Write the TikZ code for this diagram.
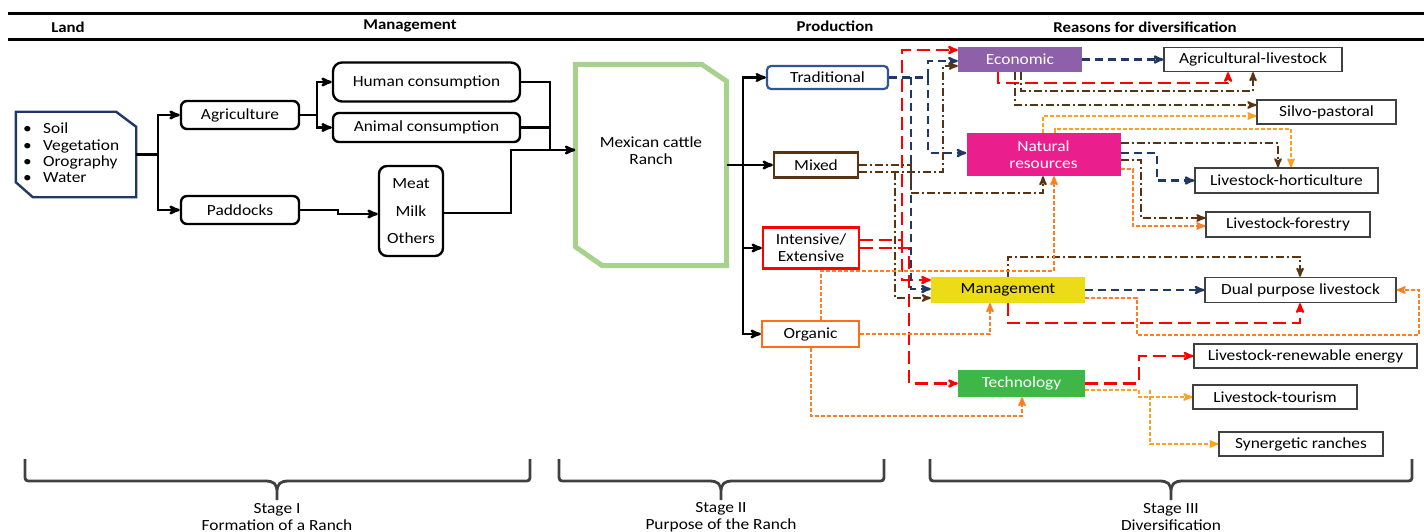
\documentclass[tikz,border=0pt]{standalone}
\usepackage{fontspec}
\setmainfont{Carlito}[FakeStretch=1.12]
\usepackage{tikz}
\usetikzlibrary{arrows}
\usetikzlibrary{positioning}

\definecolor{landblue}{RGB}{31,56,100}
\definecolor{ranchgreen}{RGB}{169,209,142}
\definecolor{tradblue}{RGB}{47,85,151}
\definecolor{navy}{RGB}{32,56,100}
\definecolor{mixbrown}{RGB}{89,52,20}
\definecolor{intred}{RGB}{255,0,0}
\definecolor{orgorange}{RGB}{255,110,20}
\definecolor{dashorange}{RGB}{255,125,35}
\definecolor{lightorange}{RGB}{255,160,30}
\definecolor{econpurple}{RGB}{142,96,170}
\definecolor{natpink}{RGB}{234,30,140}
\definecolor{mgmtyellow}{RGB}{236,220,24}
\definecolor{techgreen}{RGB}{63,182,72}
\definecolor{outline}{RGB}{64,64,64}

\tikzset{
	>=stealth',
	flow/.style={draw=black, line width=2.4pt},
	headrule/.style={draw=black, line width=3pt},
	headtext/.style={font=\fontsize{15}{17}\selectfont\bfseries},
	roundbox/.style={draw=black, line width=2.4pt, rounded corners=6pt, inner sep=0pt, align=center},
	prodbox/.style={line width=2.2pt, inner sep=0pt, align=center, fill=white},
	reasonbox/.style={inner sep=0pt, align=center, text=white},
	outcomebox/.style={draw=outline, line width=1.4pt, fill=white, inner sep=0pt, minimum height=24pt},
	redline/.style={draw=intred, line width=2.2pt, dash pattern=on 13pt off 6pt},
	navyline/.style={draw=navy, line width=2.2pt, dash pattern=on 8pt off 5pt},
	brownline/.style={draw=mixbrown, line width=2pt, dash pattern=on 8pt off 3pt on 2pt off 3pt},
	orangeline/.style={draw=dashorange, line width=2pt, dash pattern=on 4pt off 2pt},
	lightorangeline/.style={draw=lightorange, line width=2pt, dash pattern=on 4pt off 2pt},
	stagebrace/.style={draw=outline, line width=2.8pt},
	stagetext/.style={align=center, font=\fontsize{15.5}{17}\selectfont},
}

\begin{document}
\begin{tikzpicture}[x=1pt, y=-1pt, font=\fontsize{15.5}{17}\selectfont]
\useasboundingbox (0,0) rectangle (1424,532);

% header
\draw[headrule] (8,14) -- (1424,14);
\draw[headrule] (8,40) -- (1424,40);
\node[headtext] (hland) at (68,27) {Land};
\node[headtext] (hmanage) at (410,26) {Management};
\node[headtext] (hprod) at (835,26) {Production};
\node[headtext] (hreason) at (1145,27) {Reasons for diversification};

% stage I
\node[minimum width=120pt, minimum height=85pt] (land) at (76,154.5) {};
\draw[landblue, line width=2.4pt] (land.north west) -- ([xshift=-20pt]land.north east) -- ([yshift=-15pt]land.north east)
  -- (land.south east) -- ([xshift=17pt]land.south west) -- ([yshift=15pt]land.south west) -- cycle;
\node[anchor=west, align=left, inner sep=0pt, font=\fontsize{15.5}{16.3}\selectfont] (landtxt) at (23,153)
  {\makebox[20pt][l]{\textbullet}Soil\\\makebox[20pt][l]{\textbullet}Vegetation\\\makebox[20pt][l]{\textbullet}Orography\\\makebox[20pt][l]{\textbullet}Water};

\node[roundbox, minimum width=118pt, minimum height=28pt] (agri) at (240,115) {Agriculture};
\node[roundbox, minimum width=118pt, minimum height=28pt] (padd) at (240,210) {Paddocks};
\node[roundbox, rounded corners=9pt, minimum width=187pt, minimum height=39pt] (human) at (426.5,82) {Human consumption};
\node[roundbox, minimum width=187pt, minimum height=29pt] (animal) at (426.5,127.5) {Animal consumption};
\node[roundbox, rounded corners=8pt, minimum width=64pt, minimum height=90pt] (prods) at (411,211) {Meat\\[11pt]Milk\\[10pt]Others};

\draw[flow] (land.east) -- ++(22,0) coordinate (landfork);
\draw[flow,->] (landfork) |- (agri.west);
\draw[flow,->] (landfork) |- (padd.west);
\draw[flow] (agri.east) -- ++(17,0) coordinate (agrifork);
\draw[flow,->] (agrifork) |- (human.west);
\draw[flow,->] (agrifork) |- (animal.west);
\draw[flow,->] (padd.east) -- (338,210) -- (338,214) -- (prods.west |- 0,214);

% stage II
\node[minimum width=151pt, minimum height=201pt] (ranch) at (651,165) {};
\draw[ranchgreen, line width=5pt] (ranch.north west) -- ([xshift=-25pt]ranch.north east) -- ([yshift=-17pt]ranch.north east)
  -- (ranch.south east) -- ([xshift=27pt]ranch.south west) -- ([yshift=19pt]ranch.south west) -- cycle;
\node[align=center] (ranchtxt) at (651,150.5) {Mexican cattle\\Ranch};

\draw[flow] (human.east) -| (550,150) coordinate (ranchin);
\draw[flow] (animal.east) -- (animal.east -| ranchin);
\draw[flow] (prods.east |- 0,213) -| (511,150) -- (ranchin);
\draw[flow,->] (ranchin) -- (ranch.west |- ranchin);

\node[prodbox, draw=tradblue, rounded corners=4pt, minimum width=121pt, minimum height=23pt] (trad) at (827.5,77.5) {Traditional};
\node[prodbox, draw=mixbrown, minimum width=84pt, minimum height=25pt] (mixed) at (816,165) {Mixed};
\node[prodbox, draw=intred, minimum width=96pt, minimum height=41pt] (inten) at (811,248) {Intensive/\\Extensive};
\node[prodbox, draw=orgorange, minimum width=97pt, minimum height=26pt] (organic) at (810.5,334) {Organic};

\draw[flow] (ranch.east) -- ++(16,0) coordinate (ranchfork);
\draw[flow,->] (ranchfork) |- (trad.west);
\draw[flow,->] (ranchfork) -- (mixed.west);
\draw[flow,->] (ranchfork) |- (inten.west);
\draw[flow,->] (ranchfork) |- (organic.west);

% stage III
\node[reasonbox, fill=econpurple, minimum width=124pt, minimum height=25pt] (econ) at (1020,59.5) {Economic};
\node[reasonbox, fill=natpink, minimum width=154pt, minimum height=43pt] (natres) at (1043.5,154.5) {Natural\\resources};
\node[reasonbox, fill=mgmtyellow, text=black, minimum width=154pt, minimum height=26pt] (mgmt) at (1008,290) {Management};
\node[reasonbox, fill=techgreen, minimum width=127pt, minimum height=27pt] (tech) at (1021.5,383.5) {Technology};

\node[outcomebox, minimum width=178pt] (agliv) at (1253,59.5) {Agricultural-livestock};
\node[outcomebox, minimum width=139pt] (silvo) at (1326.5,112) {Silvo-pastoral};
\node[outcomebox, minimum width=183pt, minimum height=25pt] (hort) at (1286.5,180.5) {Livestock-horticulture};
\node[outcomebox, minimum width=164pt, minimum height=25pt] (forest) at (1288,224.5) {Livestock-forestry};
\node[outcomebox, minimum width=191pt, minimum height=25pt] (dual) at (1300.5,290) {Dual purpose livestock};
\node[outcomebox, minimum width=223pt] (renew) at (1305.5,356) {Livestock-renewable energy};
\node[outcomebox, minimum width=164pt] (tour) at (1275,397) {Livestock-tourism};
\node[outcomebox, minimum width=164pt] (syn) at (1301,444) {Synergetic ranches};

% intensive/extensive
\draw[redline,->] (inten.east |- 0,240) -- (902,240) |- (econ.west |- 0,50);
\draw[redline,->] (902,240) |- (mgmt.west |- 0,280);
\draw[redline,->] (inten.east |- 0,248) -- (909,248) |- (tech.west);
\draw[redline,->] (econ.south -| 998,0) |- (1228,83) -- (agliv.south -| 1228,0);
\draw[redline,->] (mgmt.south) |- (1300,323) -- (dual.south -| 1300,0);
\draw[redline,->] (tech.east) -- (1139,383.5) |- (renew.west);

% traditional
\draw[navyline,->] (trad.east) -| (928,61) -- (econ.west |- 0,61);
\draw[navyline,->] (928,77.5) |- (natres.west |- 0,153);
\draw[navyline,->] (911,77.5) |- (mgmt.west |- 0,289);
\draw[navyline,->] (econ.east) -- (agliv.west);
\draw[navyline,->] (natres.east |- 0,153) -- (1157,153) |- (hort.west);
\draw[navyline,->] (mgmt.east) -- (dual.west);

% mixed
\draw[brownline,->] (mixed.east |- 0,172) -- (943,172) |- (econ.west |- 0,66);
\draw[brownline,->] (mixed.east) -- (911,165) |- (1043,193) -- (natres.south -| 1043,0);
\draw[brownline,->] (895,172) |- (mgmt.west |- 0,298);
\draw[brownline,->] (econ.south -| 1021,0) |- (1253,91) -- (agliv.south -| 1253,0);
\draw[brownline,->] (econ.south -| 1015,0) |- (silvo.west |- 0,105);
\draw[brownline,->] (natres.east |- 0,143) -| (hort.north -| 1278,0);
\draw[brownline,->] (natres.east |- 0,160) -- (1141,160) |- (forest.west |- 0,218);
\draw[brownline,->] (mgmt.north) |- (1300,257) -- (dual.north -| 1300,0);

% organic
\draw[orangeline,->] (organic.north -| 821,0) |- (1054,271) -- (natres.south -| 1054,0);
\draw[orangeline,->] (organic.east) -| (mgmt.south -| 990,0);
\draw[orangeline,->] (organic.south) |- (1022,416) -- (tech.south -| 1022,0);
\draw[lightorangeline,->] (natres.north -| 1043,0) |- (silvo.west |- 0,116);
\draw[lightorangeline,->] (natres.north -| 1055,0) |- (1291,129) -- (hort.north -| 1291,0);
\draw[orangeline,->] (natres.east |- 0,169) -- (1133,169) |- (forest.west |- 0,226);
\draw[orangeline,->] (mgmt.east |- 0,298) -- (1137,298) |- (1419,335) |- (dual.east);
\draw[lightorangeline,->] (tech.east |- 0,390) -- (1139,390) |- (tour.west);
\draw[lightorangeline,->] (1150,390) |- (syn.west);

% stages
\draw[stagebrace] (25,459) -- (25,474) .. controls (25,481) .. (32,481) -- (265,481)
  .. controls (274,481) and (277,484) .. (277,492) -- (277,500)
  (277,492) .. controls (277,484) and (280,481) .. (289,481) -- (523,481)
  .. controls (530,481) .. (530,474) -- (530,459);
\draw[stagebrace] (559,459) -- (559,474) .. controls (559,481) .. (566,481) -- (709,481)
  .. controls (718,481) and (721,484) .. (721,492) -- (721,500)
  (721,492) .. controls (721,484) and (724,481) .. (733,481) -- (877,481)
  .. controls (884,481) .. (884,474) -- (884,459);
\draw[stagebrace] (930,459) -- (930,474) .. controls (930,481) .. (937,481) -- (1159,481)
  .. controls (1168,481) and (1171,484) .. (1171,492) -- (1171,500)
  (1171,492) .. controls (1171,484) and (1174,481) .. (1183,481) -- (1405,481)
  .. controls (1412,481) .. (1412,474) -- (1412,459);
\node[stagetext] (stage1) at (277,517) {Stage I\\Formation of a Ranch};
\node[stagetext] (stage2) at (721,517) {Stage II\\Purpose of the Ranch};
\node[stagetext] (stage3) at (1171,517) {Stage III\\Diversification};
\end{tikzpicture}
\end{document}
